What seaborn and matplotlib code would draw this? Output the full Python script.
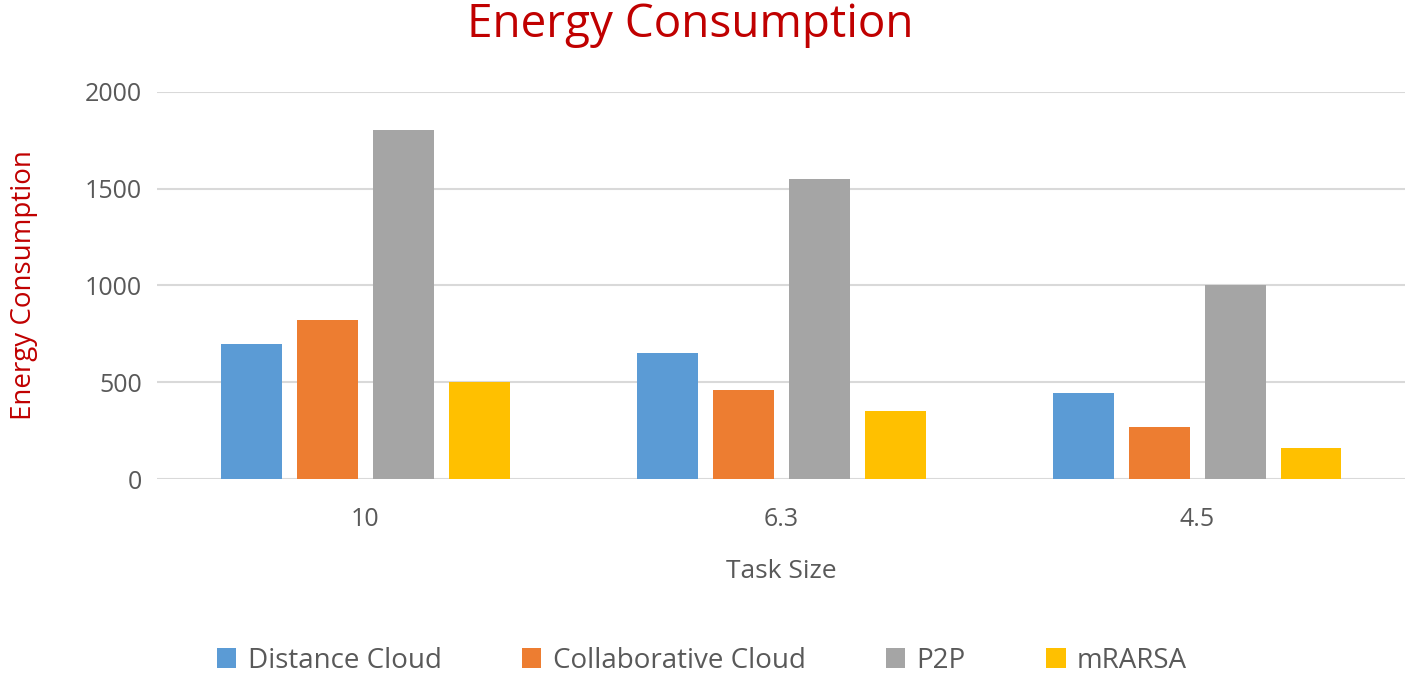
import pandas as pd
import matplotlib.pyplot as plt
import seaborn as sns

# Values
task_sizes = ["10", "6.3", "4.5"]
distance_cloud = [700, 650, 445]
collaborative_cloud = [820, 460, 270]
p2p = [1800, 1550, 1000]
mrarsa = [500, 350, 160]
methods = ["Distance Cloud", "Collaborative Cloud", "P2P", "mRARSA"]
colors = ["#5B9BD5", "#ED7D31", "#A5A5A5", "#FFC000"]

rows = []
for name, vals in zip(methods, [distance_cloud, collaborative_cloud, p2p, mrarsa]):
    for t, v in zip(task_sizes, vals):
        rows.append({"Task Size": t, "Method": name, "Energy": v})
data = pd.DataFrame(rows)

sns.set_style("white")
plt.rcParams["font.family"] = ["Open Sans", "DejaVu Sans"]

fig = plt.figure(figsize=(14.18, 6.74), dpi=100)
ax = fig.add_axes([0.111, 0.289, 0.880, 0.575])

sns.barplot(
    data=data, x="Task Size", y="Energy", hue="Method",
    order=task_sizes, hue_order=methods, palette=colors, saturation=1,
    width=0.73, gap=0.2, ax=ax, legend=True, zorder=3, linewidth=0,
)

ax.set_ylim(0, 2000)
ax.set_yticks([0, 500, 1000, 1500, 2000])
ax.yaxis.grid(True, color="#D9D9D9", linewidth=1.5, zorder=0)
ax.set_axisbelow(True)
for s in ax.spines.values():
    s.set_visible(False)
ax.tick_params(axis="both", length=0, labelsize=18, labelcolor="#595959")
ax.tick_params(axis="y", pad=11)
ax.tick_params(axis="x", pad=20)

ax.set_xlabel("Task Size", fontsize=19, color="#595959")
ax.xaxis.set_label_coords(0.5, -0.205)
ax.set_ylabel("Energy Consumption", fontsize=20, color="#C00000", labelpad=34)

fig.text(0.487, 0.945, "Energy Consumption", fontsize=33, color="#C00000",
         ha="center", va="baseline")

handles, labels = ax.get_legend_handles_labels()
ax.get_legend().remove()
fig.legend(handles, labels, loc="center", bbox_to_anchor=(0.495, 0.02),
           ncol=4, frameon=False, fontsize=20, handlelength=0.7, handleheight=0.7,
           columnspacing=2.9, handletextpad=0.4, labelcolor="#595959")

plt.savefig("out.png", dpi=100)
plt.close()
